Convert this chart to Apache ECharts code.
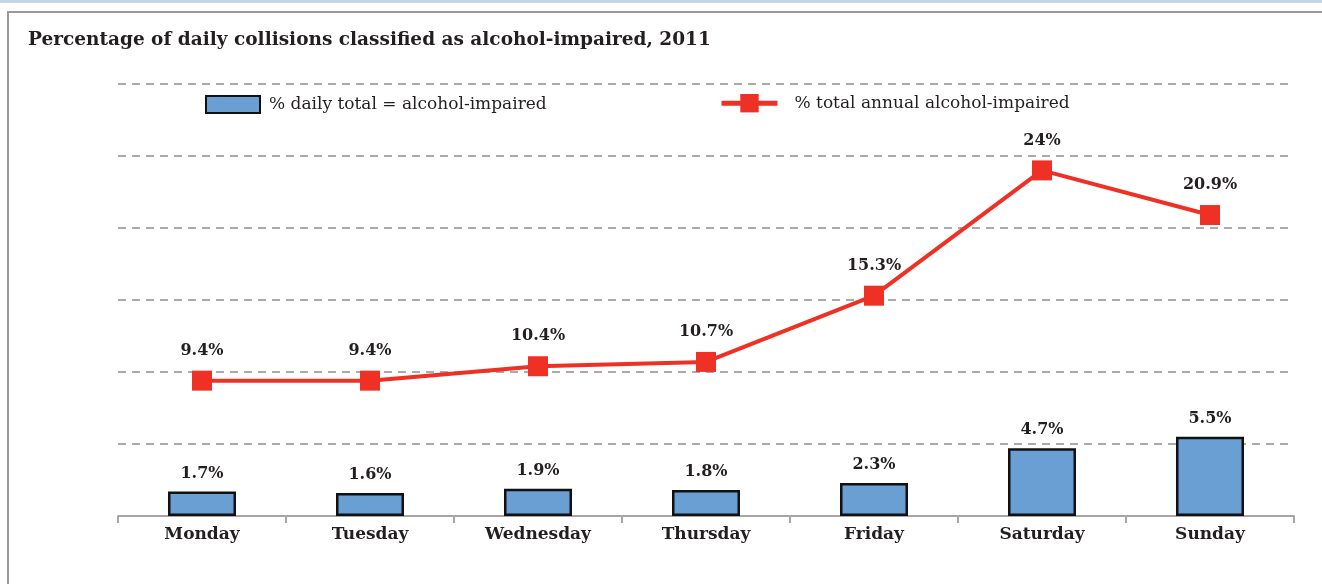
<!DOCTYPE html>
<html>
<head>
<meta charset="utf-8">
<script src="https://cdn.jsdelivr.net/npm/echarts@6/dist/echarts.min.js"></script>
<style>
  html, body { margin: 0; padding: 0; background: #fff; }
  #band { position: absolute; left: 0; top: 0; width: 1322px; height: 3px; background: #c6d5e6; }
  #frame { position: absolute; left: 7px; top: 11px; width: 1330px; height: 600px; border-left: 2px solid #9a9a9a; border-top: 2px solid #9a9a9a; }
  #chart { position: absolute; left: 0; top: 0; width: 1322px; height: 584px; }
</style>
</head>
<body>
<div id="band"></div>
<div id="frame"></div>
<div id="chart"></div>
<script>
const days = ['Monday', 'Tuesday', 'Wednesday', 'Thursday', 'Friday', 'Saturday', 'Sunday'];
const dailyShare = [1.7, 1.6, 1.9, 1.8, 2.3, 4.7, 5.5];
const annualShare = [9.4, 9.4, 10.4, 10.7, 15.3, 24, 20.9];

const serif = "'DejaVu Serif', 'Liberation Serif', serif";
const ink = '#231f20';
const chart = echarts.init(document.getElementById('chart'));

chart.setOption({
  backgroundColor: 'transparent',
  animation: false,
  title: {
    text: 'Percentage of daily collisions classified as alcohol-impaired, 2011',
    left: 28, top: 31, padding: 0,
    textStyle: { fontFamily: serif, fontSize: 18.5, fontWeight: 'bold', color: ink }
  },
  legend: [
    {
      top: 95, left: 205, padding: 0,
      itemWidth: 54, itemHeight: 17, itemGap: 0,
      textStyle: { fontFamily: serif, fontSize: 17, color: ink, padding: [0, 0, 0, 4] },
      data: [{ name: '% daily total = alcohol-impaired', icon: 'rect' }]
    },
    {
      top: 94, left: 719, padding: 0,
      itemWidth: 56, itemHeight: 23, itemGap: 0,
      textStyle: { fontFamily: serif, fontSize: 17, color: ink, padding: [0, 0, 0, 12] },
      data: [{ name: '% total annual alcohol-impaired', lineStyle: { width: 5 } }]
    }
  ],
  grid: { left: 118, right: 28, top: 84, bottom: 68 },
  xAxis: {
    type: 'category',
    data: days,
    boundaryGap: true,
    axisLine: { lineStyle: { color: '#a6a6a6', width: 2 } },
    axisTick: { show: true, length: 7, lineStyle: { color: '#a6a6a6', width: 2 } },
    axisLabel: { fontFamily: serif, fontSize: 17, fontWeight: 'bold', color: ink, margin: 10 }
  },
  yAxis: {
    type: 'value',
    min: 0, max: 30, interval: 5,
    axisLine: { show: false },
    axisTick: { show: false },
    axisLabel: { show: false },
    splitLine: { lineStyle: { color: '#aaaaaa', width: 2, type: [8, 6] } }
  },
  series: [
    {
      name: '% daily total = alcohol-impaired',
      type: 'bar',
      data: dailyShare,
      barWidth: 68,
      itemStyle: { color: '#6a9fd4', borderColor: '#111', borderWidth: 2.5 },
      label: {
        show: true, position: 'top', distance: 10,
        formatter: p => p.value + '%',
        fontFamily: serif, fontSize: 16, fontWeight: 'bold', color: ink
      }
    },
    {
      name: '% total annual alcohol-impaired',
      type: 'line',
      data: annualShare,
      symbol: 'rect',
      symbolSize: 20,
      lineStyle: { color: '#ee3124', width: 4 },
      itemStyle: { color: '#ee3124' },
      label: {
        show: true, position: 'top', distance: 12,
        formatter: p => p.value + '%',
        fontFamily: serif, fontSize: 16, fontWeight: 'bold', color: ink
      },
      z: 3
    }
  ]
});
</script>
</body>
</html>
